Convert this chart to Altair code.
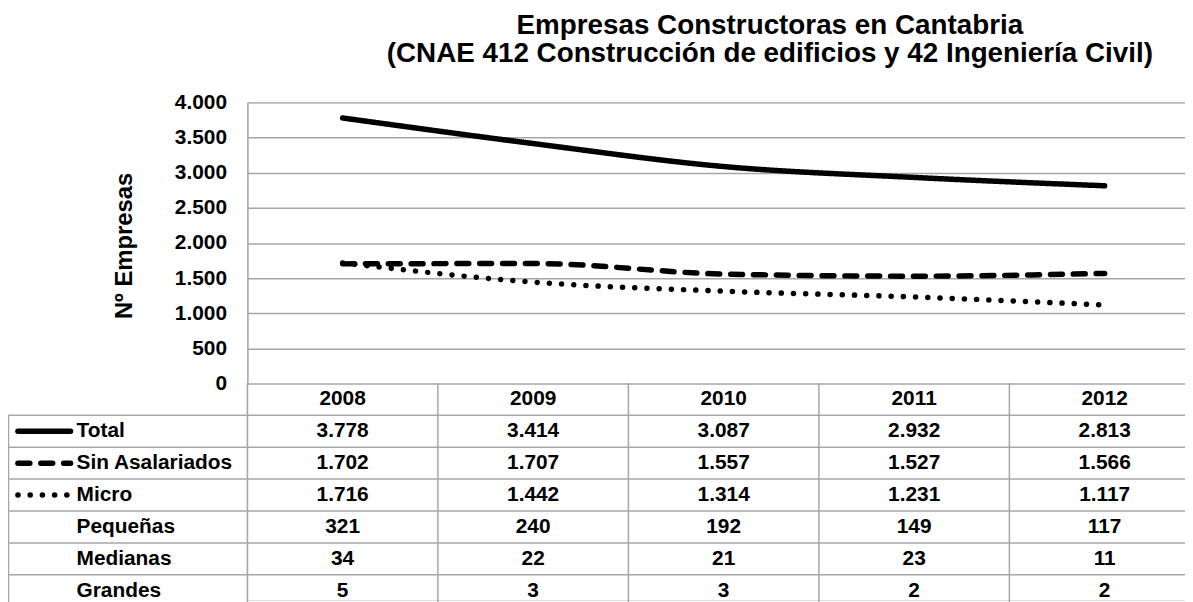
import altair as alt
import pandas as pd

# ---------------- data ----------------
years = [2008, 2009, 2010, 2011, 2012]
series = ["Total", "Sin Asalariados", "Micro"]
total = [3778, 3414, 3087, 2932, 2813]
sin_asalariados = [1702, 1707, 1557, 1527, 1566]
micro = [1716, 1442, 1314, 1231, 1117]
pequenas = [321, 240, 192, 149, 117]
medianas = [34, 22, 21, 23, 11]
grandes = [5, 3, 3, 2, 2]
row_labels = ["Total", "Sin Asalariados", "Micro", "Pequeñas", "Medianas", "Grandes"]
y_ticks = [0, 500, 1000, 1500, 2000, 2500, 3000, 3500, 4000]
title_lines = ["Empresas  Constructoras en Cantabria",
               "(CNAE 412 Construcción de edificios y 42 Ingeniería Civil)"]

# ---------------- layout / style ----------------
FONT = "Liberation Sans, Arial, sans-serif"
GRID = "#a6a6a6"
W, H = 944, 501          # view: page x 249..1193, page y 101..602
PLOT_H = 283             # line plot part of the view
ROW_H = 32.1             # table row height
COL_W = 191.8            # table column width

table_rows = [total, sin_asalariados, micro, pequenas, medianas, grandes]

line_df = pd.DataFrame(
    [{"year": y, "value": v, "serie": s}
     for s, vals in zip(series, [total, sin_asalariados, micro])
     for y, v in zip(years, vals)]
)

cell_df = pd.DataFrame(
    [{"year": y, "pos": r + 1.5, "value": v}
     for r, vals in enumerate(table_rows)
     for y, v in zip(years, vals)]
)
header_df = pd.DataFrame([{"year": y, "pos": 0.5, "txt": str(y)} for y in years])
label_df = pd.DataFrame([{"pos": r + 1.5, "txt": lab} for r, lab in enumerate(row_labels)])
glyph_df = pd.DataFrame([{"pos": r + 1.5, "serie": s} for r, s in enumerate(series)])
hline_df = pd.DataFrame({"k": list(range(1, len(row_labels) + 2))})
vline_df = pd.DataFrame({"b": [y - 0.5 for y in years], "y0": 0, "y1": len(row_labels) + 1})
border_df = pd.DataFrame({"y0": [1], "y1": [len(row_labels) + 1]})

x_scale = alt.Scale(domain=[years[0] - 0.5, years[0] - 0.5 + W / COL_W], nice=False, zero=False)
tbl_scale = alt.Scale(domain=[0, len(row_labels) + 1],
                      range=[PLOT_H, PLOT_H + (len(row_labels) + 1) * ROW_H], nice=False, zero=False)
dash_scale = alt.Scale(domain=series, range=[[1, 0], [12, 11], [0.1, 12.2]])

# ---------------- line chart ----------------
lines = alt.Chart(line_df).mark_line(
    color="black", strokeWidth=5.5, strokeCap="round", interpolate="monotone"
).encode(
    x=alt.X("year:Q", scale=x_scale, axis=None),
    y=alt.Y(
        "value:Q",
        scale=alt.Scale(domain=[0, 4000], range=[PLOT_H, 0], nice=False),
        axis=alt.Axis(
            values=y_ticks,
            labelExpr="replace(format(datum.value, ','), ',', '.')",
            title="Nº Empresas",
            grid=True, gridColor=GRID, gridWidth=1.5,
            domain=True, domainColor=GRID, domainWidth=1.5,
            ticks=False, labelPadding=21,
            labelFont=FONT, labelFontSize=21, labelFontWeight="bold", labelColor="black",
            titleFont=FONT, titleFontSize=24, titleFontWeight="bold", titleColor="black",
            titleAngle=270, titleX=-124, titleY=144, titleAlign="center", titleBaseline="middle",
        ),
    ),
    strokeDash=alt.StrokeDash("serie:N", scale=dash_scale, legend=None),
    detail="serie:N",
)

# ---------------- data table ----------------
hlines = alt.Chart(hline_df).mark_rule(color=GRID, strokeWidth=1.5).encode(
    y=alt.Y("k:Q", scale=tbl_scale, axis=None),
    x=alt.value(-240.5), x2=alt.value(W),
)
vlines = alt.Chart(vline_df).mark_rule(color=GRID, strokeWidth=1.5).encode(
    x=alt.X("b:Q", scale=x_scale, axis=None),
    y=alt.Y("y0:Q", scale=tbl_scale, axis=None), y2="y1:Q",
)
border = alt.Chart(border_df).mark_rule(color=GRID, strokeWidth=1.5).encode(
    x=alt.value(-240.5),
    y=alt.Y("y0:Q", scale=tbl_scale, axis=None), y2="y1:Q",
)
header = alt.Chart(header_df).mark_text(
    font=FONT, fontSize=21, fontWeight="bold", color="black", baseline="middle"
).encode(
    x=alt.X("year:Q", scale=x_scale, axis=None),
    y=alt.Y("pos:Q", scale=tbl_scale, axis=None),
    text="txt:N",
)
cells = alt.Chart(cell_df).transform_calculate(
    txt="replace(format(datum.value, ','), ',', '.')"
).mark_text(
    font=FONT, fontSize=21, fontWeight="bold", color="black", baseline="middle"
).encode(
    x=alt.X("year:Q", scale=x_scale, axis=None),
    y=alt.Y("pos:Q", scale=tbl_scale, axis=None),
    text="txt:N",
)
labels = alt.Chart(label_df).mark_text(
    font=FONT, fontSize=21, fontWeight="bold", color="black", baseline="middle", align="left"
).encode(
    x=alt.value(-172),
    y=alt.Y("pos:Q", scale=tbl_scale, axis=None),
    text="txt:N",
)
glyphs = alt.Chart(glyph_df).mark_rule(color="black", strokeWidth=5.5, strokeCap="round").encode(
    x=alt.value(-231), x2=alt.value(-178),
    y=alt.Y("pos:Q", scale=tbl_scale, axis=None),
    strokeDash=alt.StrokeDash("serie:N", scale=dash_scale, legend=None),
)

chart = alt.layer(
    hlines, vlines, border, lines, header, cells, labels, glyphs
).resolve_scale(
    y="independent"
).properties(
    width=W, height=H,
    autosize=alt.AutoSizeParams(type="none"),
    padding={"left": 241, "top": 93, "right": 0, "bottom": 0},
    title=alt.TitleParams(
        text=title_lines, font=FONT, fontSize=28, fontWeight="bold", color="black",
        anchor="middle", dx=54, offset=24, lineHeight=28,
    ),
).configure_view(stroke=None).configure(background="white")

chart.save("out.html", embed_options={"renderer": "svg", "actions": False})
